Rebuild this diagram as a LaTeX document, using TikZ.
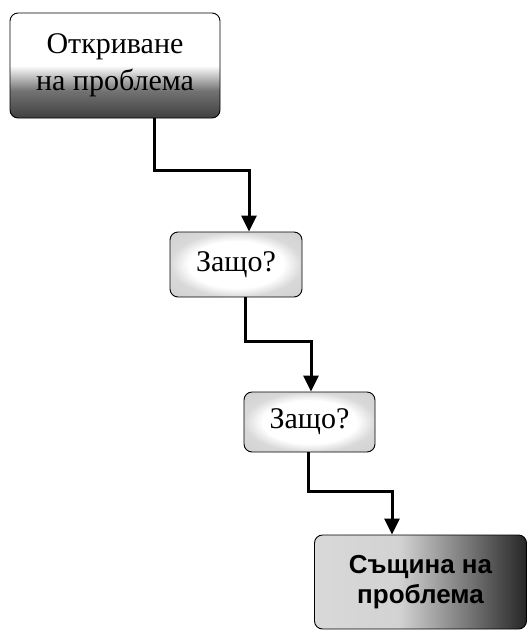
\documentclass[tikz,border=0pt]{standalone}
\usepackage{fontspec}
\setmainfont{Liberation Serif}
\newfontfamily\boxsans{Liberation Sans}
\usetikzlibrary{arrows.meta}
\pgfdeclareverticalshading{boxone}{100bp}{color(0bp)=(black!75); color(25bp)=(black!75); color(38bp)=(black!55); color(50bp)=(white); color(75bp)=(white); color(100bp)=(white)}
\pgfdeclarehorizontalshading{boxfour}{100bp}{color(0bp)=(gray!30); color(25bp)=(gray!30); color(45bp)=(gray!35); color(62bp)=(black!55); color(75bp)=(black!85); color(100bp)=(black!85)}
\pgfdeclareradialshading{boxmid}{\pgfpoint{0bp}{0bp}}{color(0bp)=(white); color(18bp)=(white); color(25bp)=(gray!30); color(50bp)=(gray!45)}
\tikzset{
  boxbase/.style={draw=black, line width=0.9pt, rounded corners=8pt, inner sep=0pt, align=center},
  conn/.style={line width=3pt, -{Triangle[length=16pt,width=15pt]}},
}
\begin{document}
\begin{tikzpicture}[x=1pt,y=-1pt]
\useasboundingbox (0,0) rectangle (528,635);
\node[boxbase, minimum width=210pt, minimum height=105pt,
      shading=boxone,
      font=\fontsize{30}{37}\selectfont] (b1) at (115,65.5) {Откриване\\на проблема};
\node[boxbase, minimum width=132pt, minimum height=65pt,
      shading=boxmid,
      font=\fontsize{30}{36}\selectfont] (b2) at (236,264.5) {Защо?};
\node[boxbase, minimum width=131pt, minimum height=60pt,
      shading=boxmid,
      font=\fontsize{30}{36}\selectfont] (b3) at (309.5,422) {Защо?};
\node[boxbase, minimum width=212pt, minimum height=94pt,
      shading=boxfour,
      font=\boxsans\bfseries\fontsize{26}{30}\selectfont] (b4) at (420.5,582) {Същина на\\проблема};
\draw[conn] ([xshift=39pt]b1.south) -- ++(0,52) -| ([xshift=13pt]b2.north);
\draw[conn] ([xshift=9pt]b2.south) -- ++(0,44) -| ([xshift=1.5pt]b3.north);
\draw[conn] ([xshift=-1.5pt]b3.south) -- ++(0,39) -| ([xshift=-28.5pt]b4.north);
\end{tikzpicture}
\end{document}
